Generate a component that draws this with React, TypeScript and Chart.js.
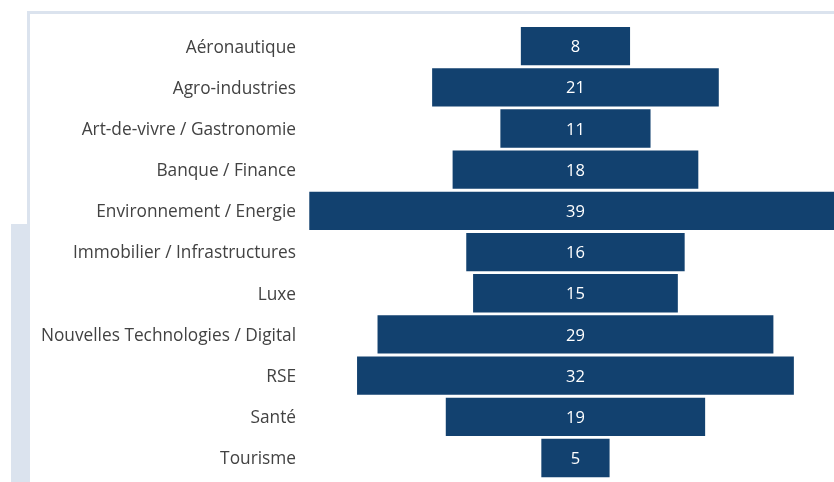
import React, { useEffect, useRef } from "react";
import { Chart, registerables } from "chart.js";

Chart.register(...registerables);

const categories = [
  "Aéronautique",
  "Agro-industries",
  "Art-de-vivre / Gastronomie",
  "Banque / Finance",
  "Environnement / Energie",
  "Immobilier / Infrastructures",
  "Luxe",
  "Nouvelles Technologies / Digital",
  "RSE",
  "Santé",
  "Tourisme",
];
const values = [8, 21, 11, 18, 39, 16, 15, 29, 32, 19, 5];

const BAR = "#12416f";
const FRAME = "#dbe3ee";
const FONT = "'Open Sans', 'Noto Sans', sans-serif";

export default function App() {
  const ref = useRef<HTMLCanvasElement>(null);
  useEffect(() => {
    const ctx = ref.current!;
    const valueLabels = {
      id: "valueLabels",
      afterDatasetsDraw(chart: any) {
        const c = chart.ctx;
        const meta = chart.getDatasetMeta(0);
        c.save();
        c.fillStyle = "#ffffff";
        c.font = `16.5px ${FONT}`;
        c.textAlign = "center";
        c.textBaseline = "middle";
        meta.data.forEach((el: any, i: number) => {
          const cx = chart.scales.x.getPixelForValue(0);
          c.fillText(String(values[i]), cx, el.y + 1.5);
        });
        c.restore();
      },
    };
    const chart = new Chart(ctx, {
      type: "bar",
      data: {
        labels: categories,
        datasets: [
          {
            data: values.map((v) => [-v / 2, v / 2]) as any,
            backgroundColor: BAR,
            borderWidth: 0,
            barPercentage: 0.93,
            categoryPercentage: 1,
          },
        ],
      },
      options: {
        indexAxis: "y",
        animation: false,
        responsive: false,
        maintainAspectRatio: false,
        layout: { padding: { top: 25.5, bottom: 0, left: 0, right: 0 } },
        plugins: {
          legend: { display: false },
          tooltip: { enabled: false },
        },
        scales: {
          x: {
            display: false,
            min: -19.74,
            max: 18.94,
            grid: { display: false },
          },
          y: {
            grid: { display: false, drawTicks: false },
            border: { display: false },
            ticks: {
              color: "#424242",
              font: { size: 17.3, family: FONT },
              padding: 10,
              labelOffset: 1.5,
            },
            afterFit: (s: any) => {
              s.width = 306;
            },
          },
        },
      },
      plugins: [valueLabels],
    });
    return () => chart.destroy();
  }, []);

  return (
    <div style={{ position: "fixed", left: 0, top: 0, width: 834, height: 482, background: "#fff", overflow: "hidden" }}>
      <div style={{ position: "absolute", left: 27, top: 11, width: 807, height: 3, background: FRAME }} />
      <div style={{ position: "absolute", left: 27, top: 11, width: 3, height: 214, background: FRAME }} />
      <div style={{ position: "absolute", left: 11, top: 224, width: 19, height: 258, background: FRAME }} />
      <canvas ref={ref} width={834} height={499} style={{ position: "absolute", left: 0, top: 0, width: 834, height: 499 }} />
    </div>
  );
}
